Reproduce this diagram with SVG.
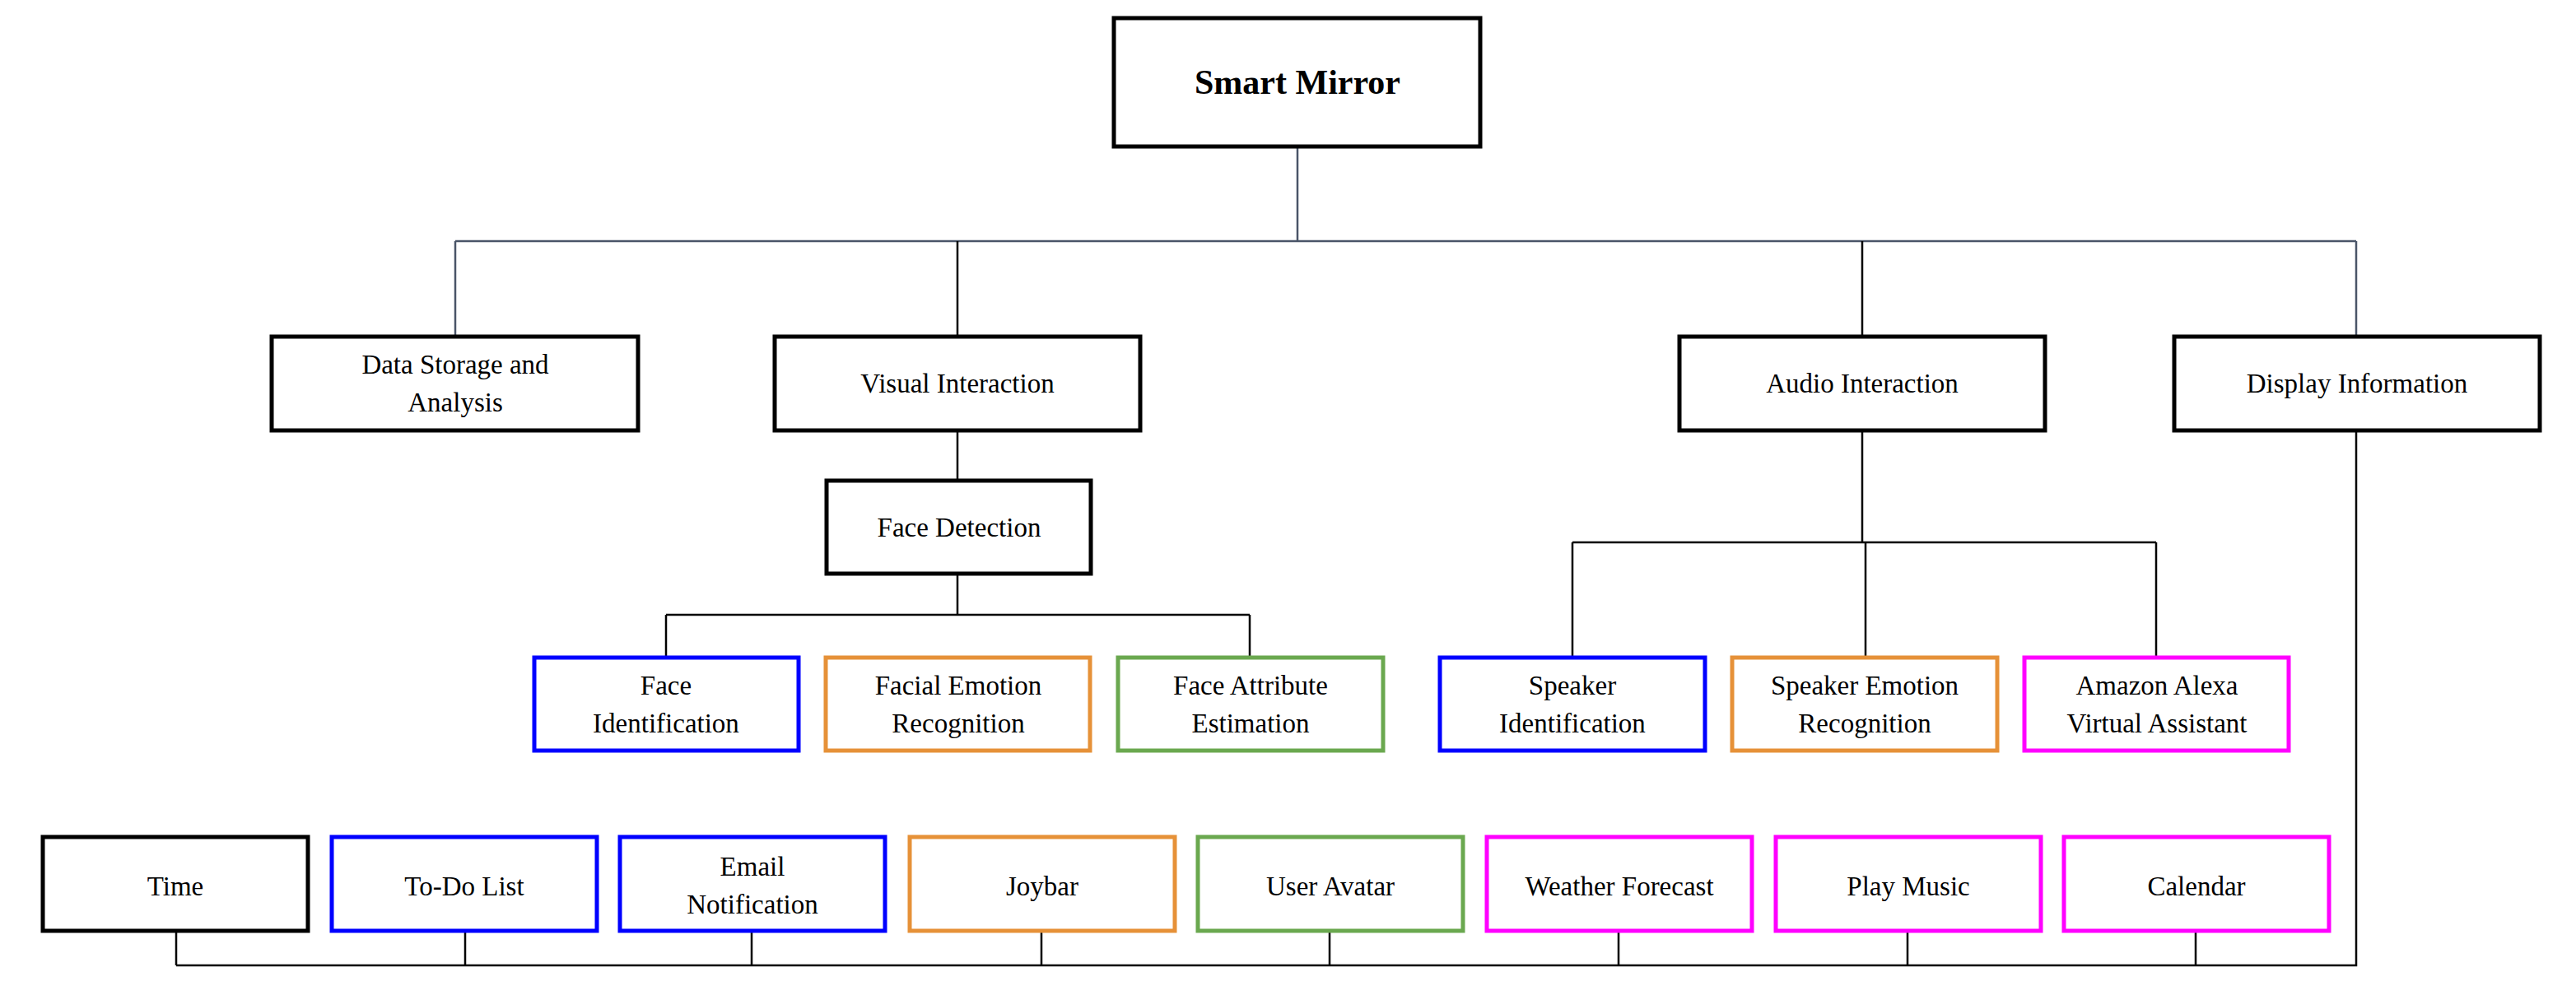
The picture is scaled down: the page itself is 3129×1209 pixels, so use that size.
<svg xmlns="http://www.w3.org/2000/svg" width="3129" height="1209" viewBox="0 0 3129 1209">
<style>
rect{fill:#fff;stroke-width:5}
.k{stroke:#000}.b{stroke:#0000ff}.o{stroke:#e69138}.g{stroke:#6aa84f}.m{stroke:#ff00ff}
text{font-family:"Liberation Serif","Times New Roman",serif;font-size:33px;text-anchor:middle;dominant-baseline:central;fill:#000}
.t{font-size:42px;font-weight:bold}
#conn path{fill:none;stroke-width:2.5}
</style>
<rect x="0" y="0" width="3129" height="1209" style="stroke:none"/>
<g id="conn">
<path d="M1576 180V293M553 293H2862M553 293V408M2862 293V408" stroke="#4a5568"/>
<path d="M1163 293V408M1163 524V583M2262 293V408M2262 524V659M1910 659H2619M1910 659V798M2266 659V798M2619 659V798" stroke="#000"/>
<path d="M1163 697V747M809 747H1518M809 747V798M1518 747V798" stroke="#000"/>
<path d="M2862 524V1173H214M214 1133V1173M565 1133V1173M913 1133V1173M1265 1133V1173M1615 1133V1173M1966 1133V1173M2317 1133V1173M2667 1133V1173" stroke="#000"/>
</g>
<g id="smart"><rect class="k" x="1353" y="22" width="445" height="156"/><text class="t" x="1576" y="100">Smart Mirror</text></g>
<g id="data"><rect class="k" x="330" y="409" width="445" height="114"/><text x="553" y="443">Data Storage and</text><text x="553" y="489">Analysis</text></g>
<g id="visual"><rect class="k" x="941" y="409" width="444" height="114"/><text x="1163" y="466">Visual Interaction</text></g>
<g id="audio"><rect class="k" x="2040" y="409" width="444" height="114"/><text x="2262" y="466">Audio Interaction</text></g>
<g id="display"><rect class="k" x="2641" y="409" width="444" height="114"/><text x="2863" y="466">Display Information</text></g>
<g id="facedet"><rect class="k" x="1004" y="584" width="321" height="113"/><text x="1165" y="641">Face Detection</text></g>
<g id="faceid"><rect class="b" x="649" y="799" width="321" height="113"/><text x="809" y="833">Face</text><text x="809" y="879">Identification</text></g>
<g id="faceemo"><rect class="o" x="1003" y="799" width="321" height="113"/><text x="1164" y="833">Facial Emotion</text><text x="1164" y="879">Recognition</text></g>
<g id="faceattr"><rect class="g" x="1358" y="799" width="322" height="113"/><text x="1519" y="833">Face Attribute</text><text x="1519" y="879">Estimation</text></g>
<g id="spkid"><rect class="b" x="1749" y="799" width="322" height="113"/><text x="1910" y="833">Speaker</text><text x="1910" y="879">Identification</text></g>
<g id="spkemo"><rect class="o" x="2104" y="799" width="322" height="113"/><text x="2265" y="833">Speaker Emotion</text><text x="2265" y="879">Recognition</text></g>
<g id="alexa"><rect class="m" x="2459" y="799" width="321" height="113"/><text x="2620" y="833">Amazon Alexa</text><text x="2620" y="879">Virtual Assistant</text></g>
<g id="time"><rect class="k" x="52" y="1017" width="322" height="114"/><text x="213" y="1077">Time</text></g>
<g id="todo"><rect class="b" x="403" y="1017" width="322" height="114"/><text x="564" y="1077">To-Do List</text></g>
<g id="email"><rect class="b" x="753" y="1017" width="322" height="114"/><text x="914" y="1053">Email</text><text x="914" y="1099">Notification</text></g>
<g id="joybar"><rect class="o" x="1105" y="1017" width="322" height="114"/><text x="1266" y="1077">Joybar</text></g>
<g id="avatar"><rect class="g" x="1455" y="1017" width="322" height="114"/><text x="1616" y="1077">User Avatar</text></g>
<g id="weather"><rect class="m" x="1806" y="1017" width="322" height="114"/><text x="1967" y="1077">Weather Forecast</text></g>
<g id="music"><rect class="m" x="2157" y="1017" width="322" height="114"/><text x="2318" y="1077">Play Music</text></g>
<g id="calendar"><rect class="m" x="2507" y="1017" width="322" height="114"/><text x="2668" y="1077">Calendar</text></g>
</svg>
